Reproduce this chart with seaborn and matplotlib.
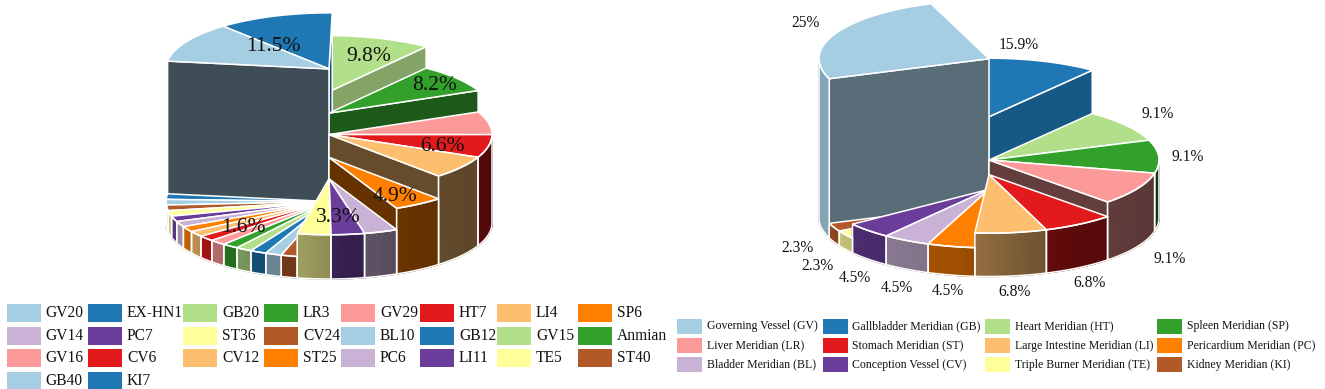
import numpy as np
import seaborn as sns
import matplotlib.pyplot as plt

# Points d'acupuncture (gauche) et méridiens (droite)
acupoints = ["GV20", "EX-HN1", "GB20", "LR3", "GV29", "HT7", "LI4", "SP6",
             "GV14", "PC7", "ST36", "CV24", "BL10", "GB12", "GV15", "Anmian",
             "GV16", "CV6", "CV12", "ST25", "PC6", "LI11", "TE5", "ST40",
             "GB40", "KI7"]
acupoint_pct = [11.5, 11.5, 9.8, 8.2, 6.6, 6.6, 6.6, 4.9,
                3.3, 3.3, 3.3, 1.6, 1.6, 1.6, 1.6, 1.6,
                1.6, 1.6, 1.6, 1.6, 1.6, 1.6, 1.6, 1.6,
                1.6, 1.6]
acupoint_labels = ["11.5%", "9.8%", "8.2%", "6.6%", "4.9%", "3.3%", "1.6%"]

meridians = ["Governing Vessel (GV)", "Gallbladder Meridian (GB)", "Heart Meridian (HT)",
             "Spleen Meridian (SP)", "Liver Meridian (LR)", "Stomach Meridian (ST)",
             "Large Intestine Meridian (LI)", "Pericardium Meridian (PC)",
             "Bladder Meridian (BL)", "Conception Vessel (CV)",
             "Triple Burner Meridian (TE)", "Kidney Meridian (KI)"]
meridian_pct = [25, 15.9, 9.1, 9.1, 9.1, 6.8, 6.8, 4.5, 4.5, 4.5, 2.3, 2.3]

sns.set_theme(style="white")
plt.rcParams['font.family'] = ['Liberation Serif', 'DejaVu Serif']
palette = sns.color_palette("Paired", 12)


def rim_shade(a):
    a = (a + 180) % 360 - 180
    return np.interp(a, [-190, -160, -140, -120, -100, -90, -78, -60, -20, 0],
                     [.8, .8, .72, .66, .62, .55, .47, .4, .36, .34])


def wall_shade(a):
    a = (a + 100) % 360 - 100
    return np.interp(a, [-100, -45, 22, 52, 172, 200], [.4, .4, .55, .74, .38, .53])


def darker(col, k):
    return tuple(c * k for c in col)


def draw_pie(ax, values, cx, base_y, rx, ry, px_per_pct, start):
    values = np.array(values, dtype=float)
    sweep = values / values.sum() * 360
    ends = start - np.cumsum(sweep)
    starts = ends + sweep
    mids = (starts + ends) / 2

    # Peintre : du fond vers l'avant
    for i in np.argsort(-np.sin(np.radians(mids))):
        col = palette[i % 12]
        top = base_y - values[i] * px_per_pct
        h = values[i] * px_per_pct
        a0, a1 = starts[i], ends[i]
        ang = np.linspace(a0, a1, max(int(sweep[i]), 4) + 1)
        xs = cx + rx * np.cos(np.radians(ang))
        ys = top - ry * np.sin(np.radians(ang))

        # Parois radiales visibles
        for a, side in ((a0, np.cos(np.radians(a0)) < 0), (a1, np.cos(np.radians(a1)) > 0)):
            if side:
                ex = cx + rx * np.cos(np.radians(a))
                ey = top - ry * np.sin(np.radians(a))
                ax.fill([cx, ex, ex, cx], [top, ey, ey + h, top + h],
                        facecolor=darker(col, wall_shade(a)), edgecolor="white", lw=1.1)

        # Bord extérieur, en facettes pour le dégradé
        visible = np.sin(np.radians(ang)) < 0
        if visible.sum() >= 2:
            vx, vy = xs[visible], ys[visible]
            va = ang[visible]
            for j in range(len(vx) - 1):
                c = darker(col, rim_shade((va[j] + va[j + 1]) / 2))
                ax.fill([vx[j], vx[j + 1], vx[j + 1], vx[j]],
                        [vy[j], vy[j + 1], vy[j + 1] + h, vy[j] + h],
                        facecolor=c, edgecolor=c, lw=1.0)
            ax.plot(np.r_[vx, vx[::-1], vx[0]], np.r_[vy, vy[::-1] + h, vy[0]],
                    color="white", lw=1.1, solid_joinstyle="miter")

        # Dessus
        ax.fill(np.r_[cx, xs], np.r_[top, ys], facecolor=col, edgecolor="white", lw=1.1)


def draw_legend(ax, names, swatch_x, text_x, rows_y, sw_w, sw_h, fontsize):
    ncol = len(swatch_x)
    for i, name in enumerate(names):
        r, c = divmod(i, ncol)
        ax.fill([swatch_x[c], swatch_x[c] + sw_w, swatch_x[c] + sw_w, swatch_x[c]],
                [rows_y[r] - sw_h / 2, rows_y[r] - sw_h / 2, rows_y[r] + sw_h / 2, rows_y[r] + sw_h / 2],
                color=palette[i % 12], lw=0)
        ax.text(text_x[c], rows_y[r], name, fontsize=fontsize, va="center", ha="left", color="#111111")


fig = plt.figure(figsize=(13.25, 3.89), dpi=100)
ax = fig.add_axes([0, 0, 1, 1])
ax.set_xlim(0, 1325)
ax.set_ylim(389, 0)
ax.axis("off")

draw_pie(ax, acupoint_pct, 329, 223, 163, 56, 13.4, 172)
draw_pie(ax, meridian_pct, 989, 218, 170, 58.5, 6.37, 200)

# Etiquettes
pos_left = [(273, 46), (369, 56), (435, 85), (442, 146), (395, 196), (338, 217), (243, 227)]
for txt, (x, y) in zip(acupoint_labels, pos_left):
    ax.text(x, y, txt, fontsize=15.5, ha="center", va="center", color="#111111")

pos_right = [(806, 23), (1019, 45), (1158, 114), (1188, 157), (1170, 259), (1090, 283),
             (1015, 292), (948, 291), (897, 288), (855, 278), (818, 266), (797, 248)]
for val, (x, y) in zip(meridian_pct, pos_right):
    ax.text(x, y, f"{val}%", fontsize=11.2, ha="center", va="center", color="#111111")

draw_legend(ax, acupoints,
            [6.5, 88, 183, 264, 341, 420, 497, 578],
            [45, 127, 222, 303, 380, 459, 536, 617],
            [313.4, 336, 358, 380.7], 34, 18, 11.2)
draw_legend(ax, meridians,
            [676.7, 822.5, 984.5, 1156.6],
            [706.8, 852, 1014.6, 1186.7],
            [326.3, 345.5, 364.7], 25.5, 15.5, 8.5)

fig.savefig("out.png", dpi=100)
